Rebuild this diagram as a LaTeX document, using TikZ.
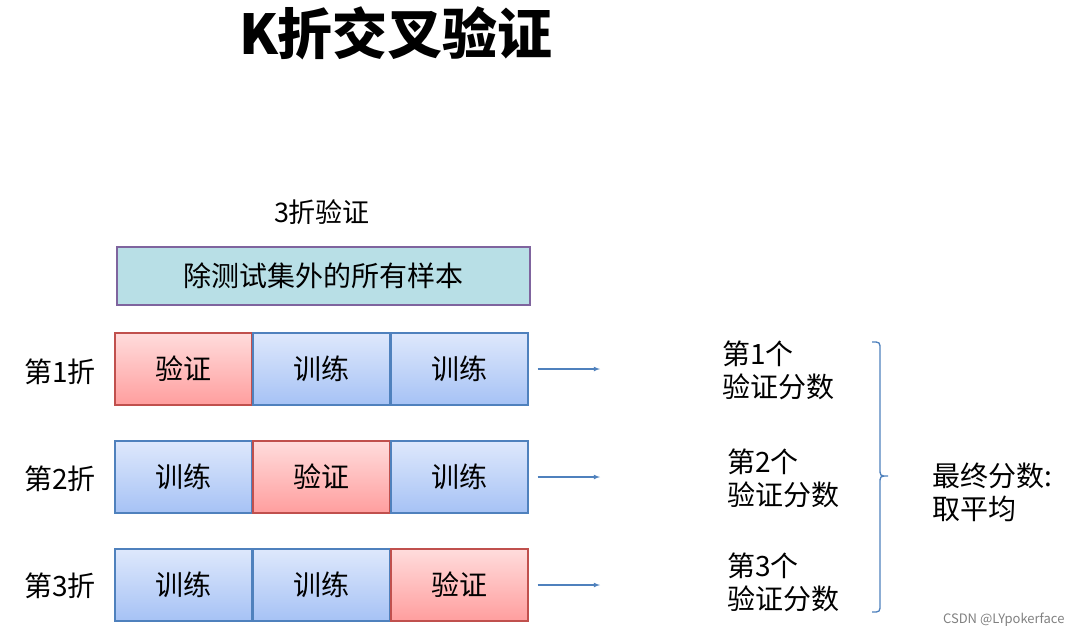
\documentclass[tikz,border=0pt]{standalone}
\usepackage{fontspec}
\setmainfont{Noto Sans CJK SC}
\definecolor{vb}{HTML}{C0504D}
\definecolor{tb}{HTML}{4F81BD}
\definecolor{vtop}{HTML}{FFDCDC}
\definecolor{vbot}{HTML}{FF9E9E}
\definecolor{ttop}{HTML}{DEE8FC}
\definecolor{tbot}{HTML}{A6C2F5}
\definecolor{ab}{HTML}{B8DFE6}
\definecolor{abd}{HTML}{7F649E}
\begin{document}
\begin{tikzpicture}[x=1pt,y=-1pt,
  cell/.style={draw,line width=1.3pt,minimum width=137pt,minimum height=72pt,inner sep=0pt,font=\fontsize{28}{32}\selectfont},
  val/.style={cell,draw=vb,top color=vtop,bottom color=vbot},
  trn/.style={cell,draw=tb,top color=ttop,bottom color=tbot},
  lab/.style={font=\fontsize{28}{33}\selectfont,align=left},
  arr/.style={-latex,draw=tb,line width=1.1pt}]
\useasboundingbox (0,0) rectangle (1082,638);
\node[font=\fontsize{55}{60}\selectfont\bfseries] (title) at (396,33) {K折交叉验证};
\node[font=\fontsize{27}{30}\selectfont] (k3) at (322,212) {3折验证};
\node[draw=abd,line width=1.3pt,fill=ab,minimum width=413pt,minimum height=58pt,font=\fontsize{28}{30}\selectfont] (all) at (323.5,276) {除测试集外的所有样本};
\node[val] (r1a) at (183.5,369) {验证};
\node[trn] (r1b) at (321.5,369) {训练};
\node[trn] (r1c) at (459.5,369) {训练};
\node[trn] (r2a) at (183.5,477) {训练};
\node[val] (r2b) at (321.5,477) {验证};
\node[trn] (r2c) at (459.5,477) {训练};
\node[trn] (r3a) at (183.5,585) {训练};
\node[trn] (r3b) at (321.5,585) {训练};
\node[val] (r3c) at (459.5,585) {验证};
\node[lab] (f1) at (60,372) {第1折};
\node[lab] (f2) at (60,479) {第2折};
\node[lab] (f3) at (60,586) {第3折};
\coordinate (e1) at (600,369);
\coordinate (e2) at (600,477);
\coordinate (e3) at (600,585);
\draw[arr] ([xshift=9pt]r1c.east) -- (e1);
\draw[arr] ([xshift=9pt]r2c.east) -- (e2);
\draw[arr] ([xshift=9pt]r3c.east) -- (e3);
\node[lab,anchor=west,inner sep=0pt] (s1) at (722,370) {第1个\\验证分数};
\node[lab,anchor=west,inner sep=0pt] (s2) at (727,478) {第2个\\验证分数};
\node[lab,anchor=west,inner sep=0pt] (s3) at (727,582) {第3个\\验证分数};
\draw[draw=tb,line width=1.3pt] (872,342) .. controls (880,342) .. (880,350) -- (880,468) .. controls (880,476) .. (888,476) .. controls (880,476) .. (880,484) -- (880,604) .. controls (880,612) .. (872,612);
\node[lab,anchor=west,inner sep=0pt] (fin) at (932,492) {最终分数:\\取平均};
\node[font=\fontsize{13}{15}\selectfont,text=gray,anchor=east] (csdn) at (1068,620) {CSDN @LYpokerface};
\end{tikzpicture}
\end{document}
